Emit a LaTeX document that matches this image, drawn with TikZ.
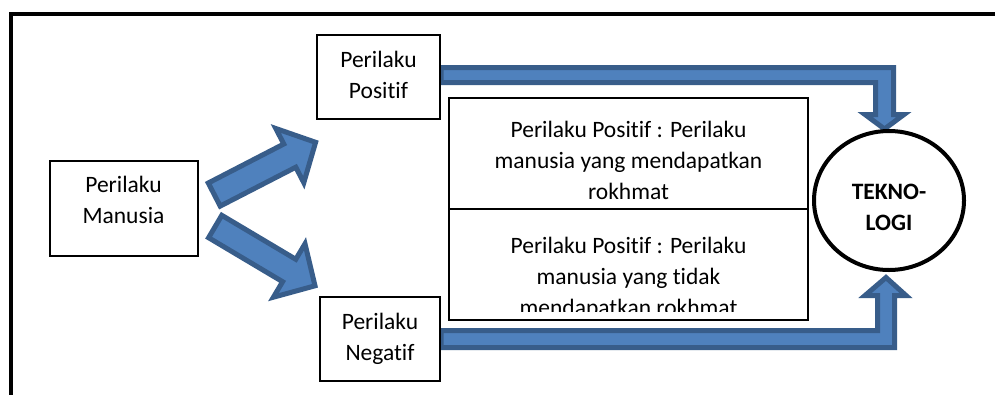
\documentclass[tikz,border=0pt]{standalone}
\usepackage{fontspec}
\setmainfont{Carlito}[Ligatures=NoCommon]
\usetikzlibrary{shapes.geometric}
\definecolor{arrfill}{HTML}{4F81BD}
\definecolor{arredge}{HTML}{385D8A}
\begin{document}
\begin{tikzpicture}[x=1pt,y=-1pt,
  blockarrow/.style={fill=arrfill, draw=arredge, line width=5pt, line join=miter},
  box/.style={draw=black, line width=2pt, fill=white, inner sep=0pt, font=\fontsize{23.5}{31}\selectfont, align=center},
  txt/.style={font=\fontsize{23.5}{31}\selectfont, align=center, inner sep=0pt},
  frame/.style={draw=black, line width=4pt, line join=miter}
]
\useasboundingbox (0,0) rectangle (995,394);
% outer frame (cut by the page on the right and bottom)
\draw[frame] (11,400) -- (11,14) -- (1000,14);

% block arrows
\draw[blockarrow] (441,67.5) -- (893.5,67.5) -- (893.5,114.5) -- (904,114.5) -- (884.5,129) -- (865,114.5) -- (875.5,114.5) -- (875.5,82.5) -- (441,82.5) -- cycle;
\draw[blockarrow] (441,330.5) -- (877.5,330.5) -- (877.5,295.5) -- (865,295.5) -- (886,277.5) -- (906,295.5) -- (894.5,295.5) -- (894.5,347.5) -- (441,347.5) -- cycle;
\draw[blockarrow] (208.3,183.0) -- (283.8,144.0) -- (275.8,128.5) -- (315.6,142.3) -- (303.8,182.7) -- (295.8,167.2) -- (220.2,206.1) -- cycle;
\draw[blockarrow] (221.8,215.3) -- (295.8,259.3) -- (305.0,243.8) -- (315.0,285.8) -- (273.4,297.2) -- (282.6,281.7) -- (208.6,237.7) -- cycle;

% boxes
\node[box, minimum width=148pt, minimum height=95pt] (pm) at (123.5,208.5) {};
\node[txt] (pmt) at (123.5,201.3) {\strut Perilaku\\\strut Manusia};
\node[box, minimum width=123pt, minimum height=84pt] (pp) at (378.5,77) {\strut Perilaku\\\strut Positif};
\node[box, minimum width=120pt, minimum height=84pt] (pn) at (380,339) {\strut Perilaku\\\strut Negatif};

\node[box, minimum width=359pt, minimum height=111pt] (bt) at (628.5,153.5) {};
\node[box, minimum width=359pt, minimum height=111pt] (bb) at (628.5,264.5) {};
\node[txt] (btt) at (628.5,161.8) {\strut Perilaku Positif : Perilaku\\\strut manusia yang mendapatkan\\\strut rokhmat};
\begin{scope}
\clip (450,210) rectangle (807,311);
\node[txt] (bbt) at (628.5,277.8) {\strut Perilaku Positif : Perilaku\\\strut manusia yang tidak\\\strut mendapatkan rokhmat};
\end{scope}

% circle
\node[draw=black, line width=4pt, fill=white, ellipse, minimum width=150pt, minimum height=139pt, inner sep=0pt] (tek) at (889,200.5) {};
\node[txt, font=\fontsize{23.5}{31}\selectfont\bfseries] (tekt) at (889,208.3) {\strut TEKNO-\\\strut LOGI};
\end{tikzpicture}
\end{document}
